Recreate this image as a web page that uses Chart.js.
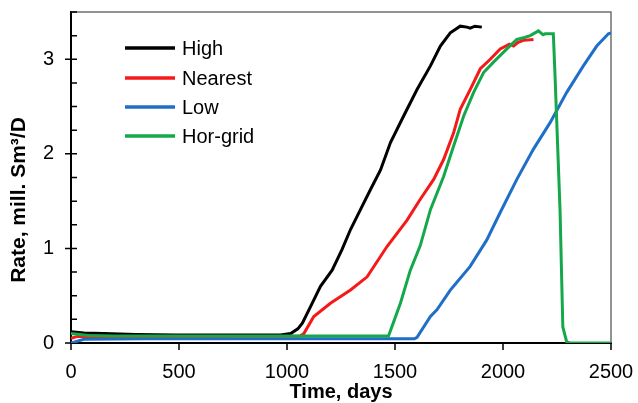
<!DOCTYPE html>
<html>
<head>
<meta charset="utf-8">
<script src="https://cdn.jsdelivr.net/npm/chart.js@4.4.1/dist/chart.umd.min.js"></script>
<style>
  html, body { margin: 0; padding: 0; background: #fff; }
  #wrap { width: 638px; height: 403px; }
</style>
</head>
<body>
<div id="wrap"><canvas id="rateChart" width="638" height="403"></canvas></div>
<script>
// values (days, mill. Sm3/D)
const highDays = [0, 60, 150, 300, 480, 970, 1017, 1050, 1071, 1109, 1155, 1209, 1255, 1294, 1340, 1386, 1433, 1479, 1540, 1602, 1664, 1710, 1756, 1802, 1833, 1848, 1870, 1902];
const highRate = [0.12, 0.105, 0.10, 0.09, 0.085, 0.085, 0.10, 0.15, 0.21, 0.385, 0.60, 0.77, 0.99, 1.20, 1.41, 1.62, 1.83, 2.12, 2.40, 2.68, 2.93, 3.14, 3.28, 3.35, 3.34, 3.33, 3.35, 3.34];

const nearDays = [0, 30, 1060, 1078, 1124, 1201, 1294, 1371, 1463, 1556, 1617, 1679, 1725, 1771, 1802, 1848, 1895, 1941, 1987, 2030, 2049, 2070, 2095, 2141];
const nearRate = [0.05, 0.07, 0.075, 0.10, 0.28, 0.42, 0.56, 0.70, 1.02, 1.30, 1.52, 1.73, 1.94, 2.22, 2.47, 2.68, 2.90, 3.00, 3.11, 3.16, 3.14, 3.18, 3.20, 3.21];

const lowDays = [0, 60, 350, 1590, 1602, 1664, 1694, 1756, 1771, 1848, 1925, 1987, 2064, 2141, 2218, 2295, 2372, 2434, 2488, 2500];
const lowRate = [0.0, 0.04, 0.045, 0.045, 0.06, 0.28, 0.35, 0.56, 0.60, 0.81, 1.09, 1.38, 1.73, 2.05, 2.33, 2.65, 2.93, 3.14, 3.27, 3.28];

const gridDays = [0, 80, 200, 1470, 1525, 1571, 1617, 1664, 1725, 1771, 1818, 1864, 1910, 1956, 2018, 2064, 2100, 2126, 2164, 2185, 2195, 2233, 2241, 2264, 2277, 2295, 2310, 2500];
const gridRate = [0.10, 0.08, 0.075, 0.075, 0.42, 0.77, 1.03, 1.41, 1.76, 2.08, 2.40, 2.65, 2.86, 2.97, 3.11, 3.21, 3.23, 3.25, 3.30, 3.26, 3.27, 3.27, 2.82, 1.41, 0.17, 0.01, 0.0, 0.0];

const seriesNames = ['High', 'Nearest', 'Low', 'Hor-grid'];
const seriesColors = ['#000000', '#f41a1a', '#1f6fc9', '#14a84a'];
const xTicks = [0, 500, 1000, 1500, 2000, 2500];
const yTicks = [0, 1, 2, 3];

const font = "'Liberation Sans', Arial, sans-serif";

function pts(days, rate) {
  return days.map((d, i) => ({ x: d, y: rate[i] }));
}

// light top/right frame lines, tick marks, y title and the inside legend
const framePlugin = {
  id: 'frame',
  beforeDatasetsDraw(chart) {
    const { ctx, chartArea: a, scales } = chart;
    ctx.save();
    ctx.strokeStyle = '#707070';
    ctx.lineWidth = 1.5;
    ctx.beginPath();
    ctx.moveTo(a.left, a.top);
    ctx.lineTo(a.right, a.top);
    ctx.lineTo(a.right, a.bottom);
    ctx.stroke();

    ctx.strokeStyle = '#000';
    ctx.lineWidth = 1.5;
    ctx.beginPath();
    for (let v = 0; v <= 3.5; v += 0.25) {
      const py = scales.y.getPixelForValue(v);
      const major = yTicks.includes(v);
      ctx.moveTo(a.left - (major ? 6 : 0), py);
      ctx.lineTo(a.left + 6, py);
    }
    xTicks.forEach((v) => {
      const px = scales.x.getPixelForValue(v);
      ctx.moveTo(px, a.bottom);
      ctx.lineTo(px, a.bottom + 7);
    });
    ctx.stroke();

    ctx.fillStyle = '#000';
    ctx.font = `bold 21px ${font}`;
    ctx.textAlign = 'center';
    ctx.textBaseline = 'middle';
    ctx.translate(19, 200);
    ctx.rotate(-Math.PI / 2);
    ctx.fillText('Rate, mill. Sm³/D', 0, 0);
    ctx.restore();
  },
  afterDraw(chart) {
    const { ctx } = chart;
    ctx.save();
    ctx.font = `20px ${font}`;
    ctx.textBaseline = 'middle';
    ctx.fillStyle = '#000';
    const rows = [48, 78, 107, 136];
    seriesNames.forEach((name, i) => {
      ctx.strokeStyle = seriesColors[i];
      ctx.lineWidth = 3.5;
      ctx.beginPath();
      ctx.moveTo(125, rows[i]);
      ctx.lineTo(175, rows[i]);
      ctx.stroke();
      ctx.fillText(name, 182, rows[i] + 1);
    });
    ctx.restore();
  },
};

const sets = [
  [highDays, highRate],
  [nearDays, nearRate],
  [lowDays, lowRate],
  [gridDays, gridRate],
];

new Chart(document.getElementById('rateChart'), {
  type: 'line',
  data: {
    datasets: sets.map(([d, r], i) => ({
      label: seriesNames[i],
      data: pts(d, r),
      borderColor: seriesColors[i],
      backgroundColor: seriesColors[i],
      borderWidth: 3,
      pointRadius: 0,
      tension: 0,
      order: i === 3 ? 0 : i + 1,
    })),
  },
  options: {
    responsive: false,
    animation: false,
    devicePixelRatio: 1,
    layout: { padding: { top: 12, right: 27, left: 0, bottom: 0 } },
    plugins: { legend: { display: false }, tooltip: { enabled: false } },
    scales: {
      x: {
        type: 'linear',
        min: 0,
        max: 2500,
        afterFit: (s) => { s.height = 60; s.paddingLeft = 0; s.paddingRight = 0; },
        afterBuildTicks: (s) => { s.ticks = xTicks.map((v) => ({ value: v })); },
        grid: { display: false, drawTicks: false },
        border: { display: true, color: '#000', width: 2 },
        ticks: {
          color: '#000',
          padding: 17,
          maxRotation: 0,
          autoSkip: false,
          font: { family: font, size: 20 },
          callback: (v) => String(v),
        },
        title: {
          display: true,
          text: 'Time, days',
          color: '#000',
          padding: { top: 0, bottom: 0 },
          font: { family: font, size: 20, weight: 'bold', lineHeight: 1.1 },
        },
      },
      y: {
        type: 'linear',
        min: 0,
        max: 3.5,
        afterFit: (s) => { s.width = 71; s.paddingTop = 0; s.paddingBottom = 0; },
        afterBuildTicks: (s) => { s.ticks = yTicks.map((v) => ({ value: v })); },
        grid: { display: false, drawTicks: false },
        border: { display: true, color: '#000', width: 2 },
        ticks: { color: '#000', padding: 17, autoSkip: false, font: { family: font, size: 20 } },
      },
    },
  },
  plugins: [framePlugin],
});
</script>
</body>
</html>
